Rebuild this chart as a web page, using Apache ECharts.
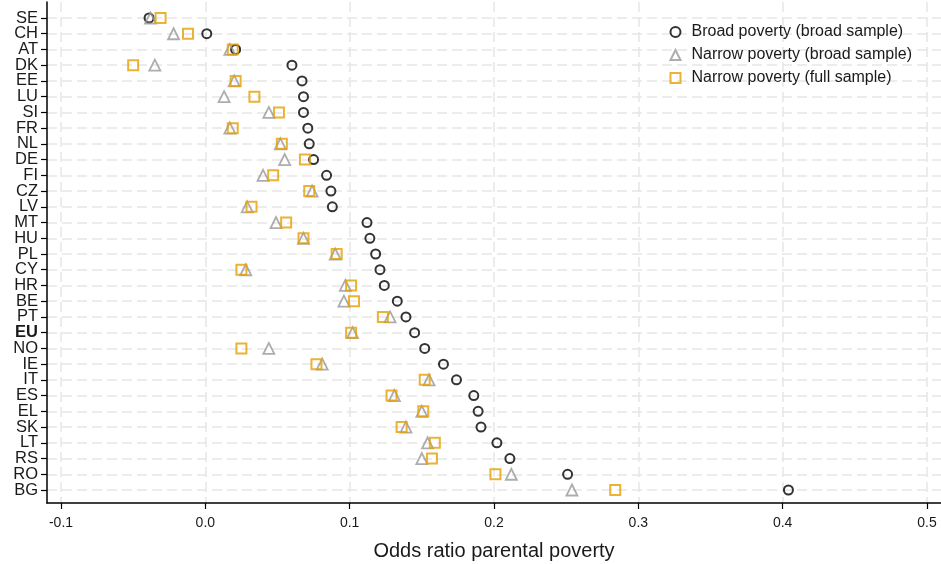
<!DOCTYPE html>
<html>
<head>
<meta charset="utf-8">
<script src="https://cdn.jsdelivr.net/npm/echarts@6/dist/echarts.min.js"></script>
<style>
  html, body { margin: 0; padding: 0; background: #fff; }
  #chart { width: 941px; height: 564px; }
</style>
</head>
<body>
<div id="chart"></div>
<script>
// Countries, top to bottom
const countries = ['SE','CH','AT','DK','EE','LU','SI','FR','NL','DE','FI','CZ','LV','MT','HU','PL','CY','HR','BE','PT','EU','NO','IE','IT','ES','EL','SK','LT','RS','RO','BG'];

// Odds ratio parental poverty, per country
const broadPovertyBroadSample = [-0.039, 0.001, 0.021, 0.060, 0.067, 0.068, 0.068, 0.071, 0.072, 0.075, 0.084, 0.087, 0.088, 0.112, 0.114, 0.118, 0.121, 0.124, 0.133, 0.139, 0.145, 0.152, 0.165, 0.174, 0.186, 0.189, 0.191, 0.202, 0.211, 0.251, 0.404];
const narrowPovertyBroadSample = [-0.038, -0.022, 0.017, -0.035, 0.020, 0.013, 0.044, 0.017, 0.052, 0.055, 0.040, 0.074, 0.029, 0.049, 0.068, 0.090, 0.028, 0.097, 0.096, 0.128, 0.102, 0.044, 0.081, 0.155, 0.131, 0.150, 0.139, 0.154, 0.150, 0.212, 0.254];
const narrowPovertyFullSample = [-0.031, -0.012, 0.019, -0.050, 0.021, 0.034, 0.051, 0.019, 0.053, 0.069, 0.047, 0.072, 0.032, 0.056, 0.068, 0.091, 0.025, 0.101, 0.103, 0.123, 0.101, 0.025, 0.077, 0.152, 0.129, 0.151, 0.136, 0.159, 0.157, 0.201, 0.284];

const xTicks = [-0.1, 0.0, 0.1, 0.2, 0.3, 0.4, 0.5];

const seriesNames = ['Broad poverty (broad sample)', 'Narrow poverty (broad sample)', 'Narrow poverty (full sample)'];

const font = '"Liberation Sans", Arial, Helvetica, sans-serif';
const X_MIN = -0.1097, X_MAX = 0.5097;
const gridLine = { show: true, lineStyle: { color: '#e6e6e6', width: 1.5, type: [10, 5] } };

function pts(values) {
  return values.map((v, i) => [v, countries[i]]);
}

const chart = echarts.init(document.getElementById('chart'), null, { renderer: 'canvas' });

chart.setOption({
  animation: false,
  backgroundColor: '#ffffff',
  textStyle: { fontFamily: font },
  grid: [
    // frame: x axis, vertical grid, left axis line
    { left: 47, right: 0, top: 2, bottom: 61, containLabel: false, outerBoundsMode: 'none' },
    // rows: one per country, first and last at the band edges
    { left: 47, right: 0, top: 18, bottom: 74, containLabel: false, outerBoundsMode: 'none' }
  ],
  legend: {
    right: 24,
    top: 19,
    orient: 'vertical',
    itemGap: 7,
    itemWidth: 10,
    itemHeight: 10,
    textStyle: { fontFamily: font, fontSize: 16, color: '#1a1a1a', padding: [0, 0, 0, 6] },
    data: seriesNames
  },
  xAxis: [
    {
      gridIndex: 0,
      type: 'value',
      min: X_MIN,
      max: X_MAX,
      name: 'Odds ratio parental poverty',
      nameLocation: 'middle',
      nameGap: 38,
      nameTextStyle: { fontFamily: font, fontSize: 20, color: '#1a1a1a' },
      axisLine: { show: true, onZero: false, lineStyle: { color: '#000', width: 1.5 } },
      axisTick: { show: true, customValues: xTicks, length: 6, lineStyle: { color: '#000', width: 1.2 } },
      axisLabel: {
        customValues: xTicks,
        showMinLabel: true,
        showMaxLabel: true,
        formatter: v => v.toFixed(1),
        fontFamily: font, fontSize: 14, color: '#1a1a1a', margin: 13
      },
      splitLine: gridLine
    },
    {
      gridIndex: 1,
      type: 'value',
      min: X_MIN,
      max: X_MAX,
      show: false,
      axisLine: { onZero: false },
      splitLine: { show: false }
    }
  ],
  yAxis: [
    {
      gridIndex: 0,
      type: 'value',
      axisLine: { show: true, onZero: false, lineStyle: { color: '#000', width: 1.5 } },
      axisTick: { show: false },
      axisLabel: { show: false },
      splitLine: { show: false }
    },
    {
      gridIndex: 1,
      type: 'category',
      inverse: true,
      boundaryGap: false,
      data: countries,
      axisLine: { show: false, onZero: false },
      axisTick: { show: true, interval: 0, length: 6, lineStyle: { color: '#000', width: 1.2 } },
      axisLabel: {
        interval: 0,
        margin: 9,
        formatter: v => (v === 'EU' ? '{b|' + v + '}' : v),
        fontFamily: font, fontSize: 16.5, color: '#1a1a1a',
        rich: { b: { fontFamily: font, fontSize: 16.5, fontWeight: 'bold', color: '#1a1a1a' } }
      },
      splitLine: Object.assign({ interval: 0 }, gridLine)
    }
  ],
  series: [
    {
      name: seriesNames[0],
      type: 'scatter',
      xAxisIndex: 1, yAxisIndex: 1,
      symbol: 'circle',
      symbolSize: 9,
      itemStyle: { color: 'rgba(255,255,255,0)', borderColor: '#000000', borderWidth: 2 },
      data: pts(broadPovertyBroadSample)
    },
    {
      name: seriesNames[1],
      type: 'scatter',
      xAxisIndex: 1, yAxisIndex: 1,
      symbol: 'triangle',
      symbolSize: 11,
      itemStyle: { color: 'rgba(255,255,255,0)', borderColor: '#999999', borderWidth: 1.8 },
      data: pts(narrowPovertyBroadSample)
    },
    {
      name: seriesNames[2],
      type: 'scatter',
      xAxisIndex: 1, yAxisIndex: 1,
      symbol: 'rect',
      symbolSize: 10,
      itemStyle: { color: 'rgba(255,255,255,0)', borderColor: '#E69F00', borderWidth: 2 },
      data: pts(narrowPovertyFullSample)
    }
  ]
});
</script>
</body>
</html>
